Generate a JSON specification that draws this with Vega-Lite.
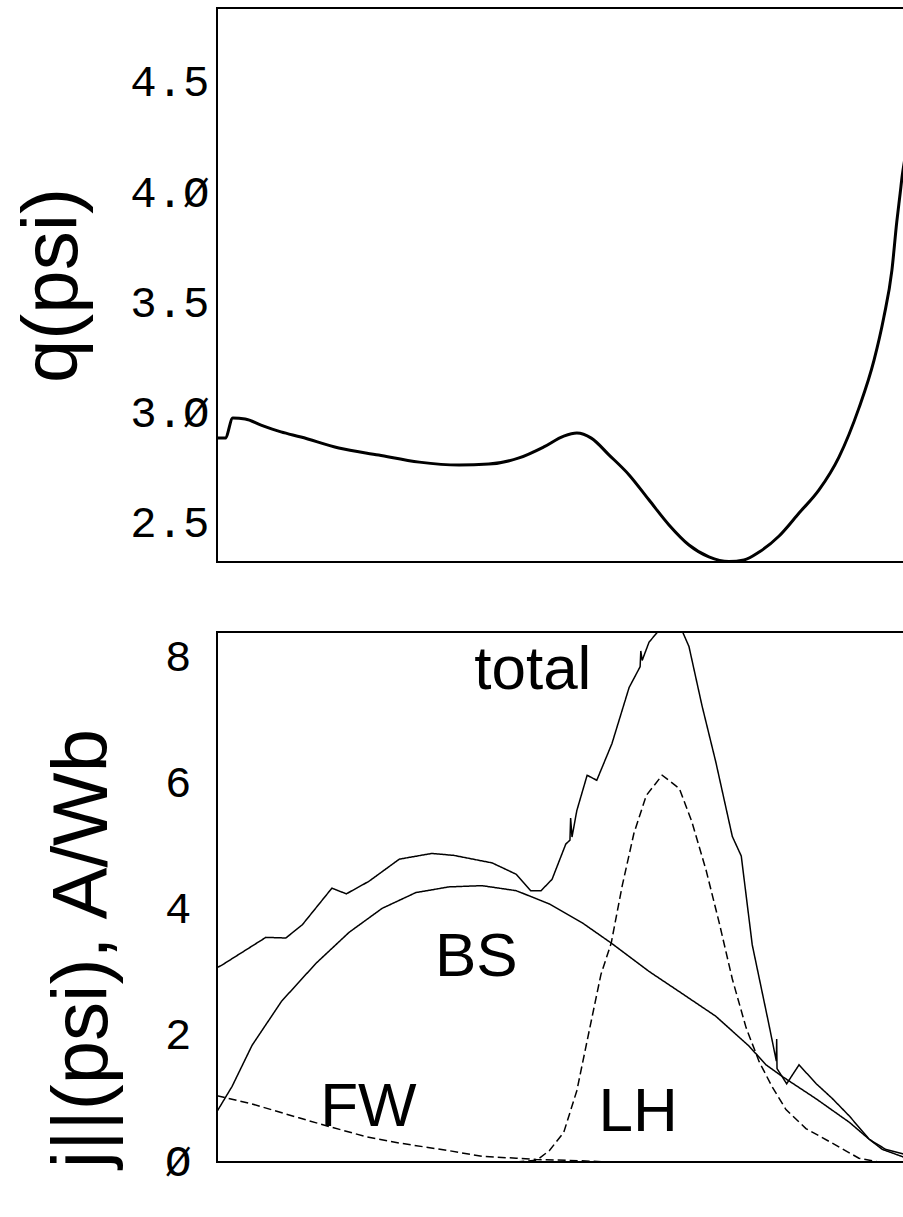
{
  "$schema": "https://vega.github.io/schema/vega-lite/v6.json",
  "background": "white",
  "padding": {"left": 13, "top": 7, "right": 0, "bottom": 40},
  "spacing": 68,
  "config": {
    "view": {"stroke": "black", "strokeWidth": 2},
    "axis": {
      "grid": false, "ticks": false, "tickSize": 0, "domain": false,
      "labelFont": "Liberation Mono", "labelFontSize": 44, "labelColor": "black",
      "labelFlush": false, "labelOverlap": false,
      "titleFont": "Liberation Sans", "titleFontSize": 78, "titleFontWeight": "normal", "titleColor": "black"
    }
  },
  "datasets": {
    "q": [
      {"psi": 0.000, "q": 2.889}, {"psi": 0.012, "q": 2.889}, {"psi": 0.023, "q": 2.980},
      {"psi": 0.041, "q": 2.976}, {"psi": 0.064, "q": 2.948}, {"psi": 0.093, "q": 2.917},
      {"psi": 0.122, "q": 2.894}, {"psi": 0.177, "q": 2.844}, {"psi": 0.235, "q": 2.812},
      {"psi": 0.294, "q": 2.780}, {"psi": 0.352, "q": 2.767}, {"psi": 0.395, "q": 2.771},
      {"psi": 0.439, "q": 2.799}, {"psi": 0.475, "q": 2.849}, {"psi": 0.504, "q": 2.898},
      {"psi": 0.523, "q": 2.912}, {"psi": 0.544, "q": 2.889}, {"psi": 0.570, "q": 2.812},
      {"psi": 0.599, "q": 2.722}, {"psi": 0.628, "q": 2.608}, {"psi": 0.657, "q": 2.495},
      {"psi": 0.686, "q": 2.404}, {"psi": 0.715, "q": 2.350}, {"psi": 0.744, "q": 2.329},
      {"psi": 0.766, "q": 2.336}, {"psi": 0.788, "q": 2.372}, {"psi": 0.817, "q": 2.445},
      {"psi": 0.846, "q": 2.549}, {"psi": 0.875, "q": 2.654}, {"psi": 0.904, "q": 2.803},
      {"psi": 0.933, "q": 3.025}, {"psi": 0.955, "q": 3.243}, {"psi": 0.969, "q": 3.434},
      {"psi": 0.981, "q": 3.651}, {"psi": 0.988, "q": 3.869}, {"psi": 0.993, "q": 4.000},
      {"psi": 0.996, "q": 4.080}, {"psi": 1.000, "q": 4.160}
    ],
    "j": [
      {"series": "total", "psi": 0.000, "v": 3.08}, {"series": "total", "psi": 0.007, "v": 3.12},
      {"series": "total", "psi": 0.039, "v": 3.34}, {"series": "total", "psi": 0.071, "v": 3.56},
      {"series": "total", "psi": 0.100, "v": 3.55}, {"series": "total", "psi": 0.124, "v": 3.76},
      {"series": "total", "psi": 0.167, "v": 4.34}, {"series": "total", "psi": 0.188, "v": 4.25},
      {"series": "total", "psi": 0.221, "v": 4.45}, {"series": "total", "psi": 0.265, "v": 4.80},
      {"series": "total", "psi": 0.312, "v": 4.89}, {"series": "total", "psi": 0.344, "v": 4.86},
      {"series": "total", "psi": 0.400, "v": 4.74}, {"series": "total", "psi": 0.435, "v": 4.56},
      {"series": "total", "psi": 0.456, "v": 4.30}, {"series": "total", "psi": 0.471, "v": 4.30},
      {"series": "total", "psi": 0.487, "v": 4.48}, {"series": "total", "psi": 0.507, "v": 5.04},
      {"series": "total", "psi": 0.513, "v": 5.10}, {"series": "total", "psi": 0.514, "v": 5.45},
      {"series": "total", "psi": 0.516, "v": 5.15}, {"series": "total", "psi": 0.523, "v": 5.57},
      {"series": "total", "psi": 0.538, "v": 6.13}, {"series": "total", "psi": 0.552, "v": 6.05},
      {"series": "total", "psi": 0.574, "v": 6.63}, {"series": "total", "psi": 0.599, "v": 7.52},
      {"series": "total", "psi": 0.615, "v": 7.85}, {"series": "total", "psi": 0.616, "v": 8.10},
      {"series": "total", "psi": 0.618, "v": 7.95}, {"series": "total", "psi": 0.628, "v": 8.24},
      {"series": "total", "psi": 0.642, "v": 8.42}, {"series": "total", "psi": 0.676, "v": 8.42},
      {"series": "total", "psi": 0.686, "v": 8.17}, {"series": "total", "psi": 0.705, "v": 7.23},
      {"series": "total", "psi": 0.725, "v": 6.34}, {"series": "total", "psi": 0.749, "v": 5.16},
      {"series": "total", "psi": 0.762, "v": 4.85}, {"series": "total", "psi": 0.778, "v": 3.44},
      {"series": "total", "psi": 0.802, "v": 2.19}, {"series": "total", "psi": 0.813, "v": 1.60},
      {"series": "total", "psi": 0.8135, "v": 1.95}, {"series": "total", "psi": 0.814, "v": 1.48},
      {"series": "total", "psi": 0.828, "v": 1.24}, {"series": "total", "psi": 0.846, "v": 1.54},
      {"series": "total", "psi": 0.871, "v": 1.24}, {"series": "total", "psi": 0.894, "v": 1.01},
      {"series": "total", "psi": 0.919, "v": 0.73}, {"series": "total", "psi": 0.948, "v": 0.36},
      {"series": "total", "psi": 0.972, "v": 0.20}, {"series": "total", "psi": 1.000, "v": 0.12},

      {"series": "BS", "psi": 0.000, "v": 0.80}, {"series": "BS", "psi": 0.022, "v": 1.20},
      {"series": "BS", "psi": 0.051, "v": 1.85}, {"series": "BS", "psi": 0.094, "v": 2.55},
      {"series": "BS", "psi": 0.144, "v": 3.15}, {"series": "BS", "psi": 0.192, "v": 3.64},
      {"series": "BS", "psi": 0.240, "v": 4.02}, {"series": "BS", "psi": 0.289, "v": 4.27},
      {"series": "BS", "psi": 0.337, "v": 4.36}, {"series": "BS", "psi": 0.385, "v": 4.38},
      {"series": "BS", "psi": 0.435, "v": 4.30}, {"series": "BS", "psi": 0.483, "v": 4.09},
      {"series": "BS", "psi": 0.531, "v": 3.79}, {"series": "BS", "psi": 0.573, "v": 3.47},
      {"series": "BS", "psi": 0.628, "v": 3.02}, {"series": "BS", "psi": 0.676, "v": 2.67},
      {"series": "BS", "psi": 0.725, "v": 2.31}, {"series": "BS", "psi": 0.773, "v": 1.84},
      {"series": "BS", "psi": 0.798, "v": 1.54}, {"series": "BS", "psi": 0.821, "v": 1.36},
      {"series": "BS", "psi": 0.871, "v": 1.00}, {"series": "BS", "psi": 0.919, "v": 0.63},
      {"series": "BS", "psi": 0.948, "v": 0.36}, {"series": "BS", "psi": 0.967, "v": 0.20},
      {"series": "BS", "psi": 1.000, "v": 0.07},

      {"series": "FW", "psi": 0.000, "v": 1.05}, {"series": "FW", "psi": 0.051, "v": 0.92},
      {"series": "FW", "psi": 0.119, "v": 0.70}, {"series": "FW", "psi": 0.167, "v": 0.55},
      {"series": "FW", "psi": 0.217, "v": 0.40}, {"series": "FW", "psi": 0.265, "v": 0.30},
      {"series": "FW", "psi": 0.337, "v": 0.18}, {"series": "FW", "psi": 0.385, "v": 0.09},
      {"series": "FW", "psi": 0.435, "v": 0.06}, {"series": "FW", "psi": 0.464, "v": 0.04},
      {"series": "FW", "psi": 0.526, "v": 0.02}, {"series": "FW", "psi": 0.570, "v": 0.00},

      {"series": "LH", "psi": 0.435, "v": 0.00}, {"series": "LH", "psi": 0.465, "v": 0.03},
      {"series": "LH", "psi": 0.483, "v": 0.18}, {"series": "LH", "psi": 0.504, "v": 0.47},
      {"series": "LH", "psi": 0.523, "v": 1.13}, {"series": "LH", "psi": 0.541, "v": 2.08},
      {"series": "LH", "psi": 0.558, "v": 2.97}, {"series": "LH", "psi": 0.573, "v": 3.47},
      {"series": "LH", "psi": 0.589, "v": 4.38}, {"series": "LH", "psi": 0.606, "v": 5.21},
      {"series": "LH", "psi": 0.624, "v": 5.81}, {"series": "LH", "psi": 0.647, "v": 6.13},
      {"series": "LH", "psi": 0.672, "v": 5.92}, {"series": "LH", "psi": 0.690, "v": 5.40},
      {"series": "LH", "psi": 0.711, "v": 4.62}, {"series": "LH", "psi": 0.730, "v": 3.79},
      {"series": "LH", "psi": 0.749, "v": 2.90}, {"series": "LH", "psi": 0.769, "v": 2.13},
      {"series": "LH", "psi": 0.788, "v": 1.59}, {"series": "LH", "psi": 0.807, "v": 1.19},
      {"series": "LH", "psi": 0.827, "v": 0.83}, {"series": "LH", "psi": 0.856, "v": 0.53},
      {"series": "LH", "psi": 0.894, "v": 0.30}, {"series": "LH", "psi": 0.933, "v": 0.06},
      {"series": "LH", "psi": 0.962, "v": 0.00}
    ],
    "labels": [
      {"label": "total", "psi": 0.459, "v": 7.80},
      {"label": "BS", "psi": 0.377, "v": 3.25},
      {"label": "FW", "psi": 0.220, "v": 0.87},
      {"label": "LH", "psi": 0.612, "v": 0.79}
    ]
  },
  "vconcat": [
    {
      "width": 688,
      "height": 554,
      "data": {"name": "q"},
      "mark": {"type": "line", "color": "black", "strokeWidth": 3, "clip": true, "interpolate": "monotone"},
      "encoding": {
        "x": {"field": "psi", "type": "quantitative", "scale": {"domain": [0, 1], "nice": false, "zero": false}, "axis": null},
        "y": {
          "field": "q", "type": "quantitative",
          "scale": {"domain": [2.327, 4.84], "nice": false, "zero": false},
          "axis": {
            "title": "q(psi)", "values": [2.5, 3, 3.5, 4, 4.5],
            "labelExpr": "replace(format(datum.value, '.1f'), '0', 'Ø')",
            "labelPadding": 8, "titleX": -125, "titleY": 277
          }
        }
      }
    },
    {
      "width": 688,
      "height": 530,
      "layer": [
        {
          "data": {"name": "j"},
          "mark": {"type": "line", "color": "black", "strokeWidth": 1.5, "clip": true},
          "encoding": {
            "x": {"field": "psi", "type": "quantitative", "scale": {"domain": [0, 1], "nice": false, "zero": false}, "axis": null},
            "y": {
              "field": "v", "type": "quantitative",
              "scale": {"domain": [0, 8.4], "nice": false},
              "axis": {
                "title": "j||(psi), A/Wb", "values": [0, 2, 4, 6, 8],
                "labelExpr": "replace(format(datum.value, 'd'), '0', 'Ø')",
                "labelPadding": 26, "titleX": -95, "titleY": 316
              }
            },
            "detail": {"field": "series", "type": "nominal"},
            "strokeDash": {
              "field": "series", "type": "nominal",
              "scale": {"domain": ["total", "BS", "FW", "LH"], "range": [[1, 0], [1, 0], [8, 4], [8, 4]]},
              "legend": null
            }
          }
        },
        {
          "data": {"name": "labels"},
          "mark": {"type": "text", "font": "Liberation Sans", "fontSize": 62, "color": "black", "align": "center", "baseline": "middle"},
          "encoding": {
            "x": {"field": "psi", "type": "quantitative"},
            "y": {"field": "v", "type": "quantitative"},
            "text": {"field": "label", "type": "nominal"}
          }
        }
      ]
    }
  ]
}
